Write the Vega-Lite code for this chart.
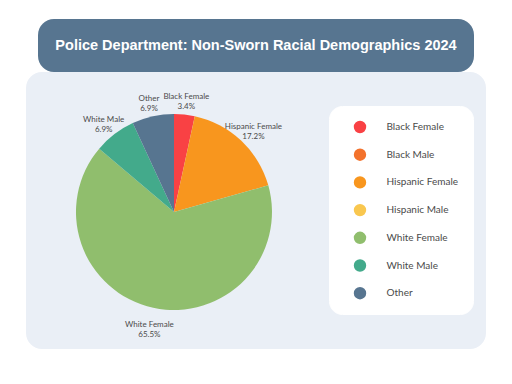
{
  "$schema": "https://vega.github.io/schema/vega-lite/v6.json",
  "padding": {"left": 26, "top": 19, "right": 26, "bottom": 35},
  "background": "white",
  "spacing": 0,
  "center": true,
  "datasets": {
    "heading": [{"text": "Police Department: Non-Sworn Racial Demographics 2024"}],
    "demo": [
      {"group": "Black Female", "n": 1, "percent": 3.4, "label": "Black Female\n3.4%", "unit": "Non-Sworn"},
      {"group": "Black Male", "n": 2, "percent": 0, "label": "Black Male\n0%", "unit": "Non-Sworn"},
      {"group": "Hispanic Female", "n": 3, "percent": 17.2, "label": "Hispanic Female\n17.2%", "unit": "Non-Sworn"},
      {"group": "Hispanic Male", "n": 4, "percent": 0, "label": "Hispanic Male\n0%", "unit": "Non-Sworn"},
      {"group": "White Female", "n": 5, "percent": 65.5, "label": "White Female\n65.5%", "unit": "Non-Sworn"},
      {"group": "White Male", "n": 6, "percent": 6.9, "label": "White Male\n6.9%", "unit": "Non-Sworn"},
      {"group": "Other", "n": 7, "percent": 6.9, "label": "Other\n6.9%", "unit": "Non-Sworn"}
    ]
  },
  "vconcat": [
    {
      "width": 436,
      "height": 53,
      "view": {"fill": "#577590", "stroke": null, "cornerRadius": 16},
      "data": {"name": "heading"},
      "mark": {"type": "text", "font": "Liberation Sans", "fontWeight": "bold", "fontSize": 14.5, "color": "white", "align": "center", "baseline": "middle"},
      "encoding": {"text": {"field": "text", "type": "nominal"}}
    },
    {
      "width": 460,
      "height": 277,
      "view": {"fill": "#EAEFF6", "stroke": null, "cornerRadius": 16},
      "data": {"name": "demo"},
      "encoding": {
        "theta": {"field": "percent", "type": "quantitative", "stack": true},
        "order": {"field": "n", "type": "quantitative"},
        "x": {"field": "unit", "type": "nominal", "scale": {"type": "point", "align": 0.3217}, "axis": null},
        "y": {"field": "unit", "type": "nominal", "scale": {"type": "point", "align": 0.5054}, "axis": null}
      },
      "layer": [
        {
          "mark": {"type": "arc", "outerRadius": 98},
          "encoding": {
            "color": {
              "field": "group",
              "type": "nominal",
              "scale": {
                "domain": ["Black Female", "Black Male", "Hispanic Female", "Hispanic Male", "White Female", "White Male", "Other"],
                "range": ["#F94144", "#F3722C", "#F8961E", "#F9C74F", "#90BE6D", "#43AA8B", "#577590"]
              },
              "legend": {
                "title": null,
                "orient": "none",
                "legendX": 303,
                "legendY": 34,
                "fillColor": "white",
                "strokeColor": "white",
                "cornerRadius": 13,
                "padding": 14.5,
                "symbolType": "circle",
                "symbolSize": 154,
                "symbolStrokeWidth": 0,
                "symbolOpacity": 1,
                "rowPadding": 14.7,
                "labelFont": "Lato",
                "labelFontSize": 10,
                "labelColor": "#4a4a4a",
                "labelOffset": 20,
                "symbolOffset": 10
              }
            }
          }
        },
        {
          "transform": [{"filter": "datum.percent > 0"}],
          "mark": {"type": "text", "radius": 116, "font": "Lato", "fontSize": 8, "lineBreak": "\n", "lineHeight": 10, "align": "center", "baseline": "middle", "color": "#4a4a4a"},
          "encoding": {
            "detail": {"field": "group", "type": "nominal"},
            "text": {"field": "label", "type": "nominal"}
          }
        }
      ]
    }
  ],
  "resolve": {"scale": {"color": "independent"}, "legend": {"color": "independent"}},
  "config": {"view": {"stroke": null}}
}
